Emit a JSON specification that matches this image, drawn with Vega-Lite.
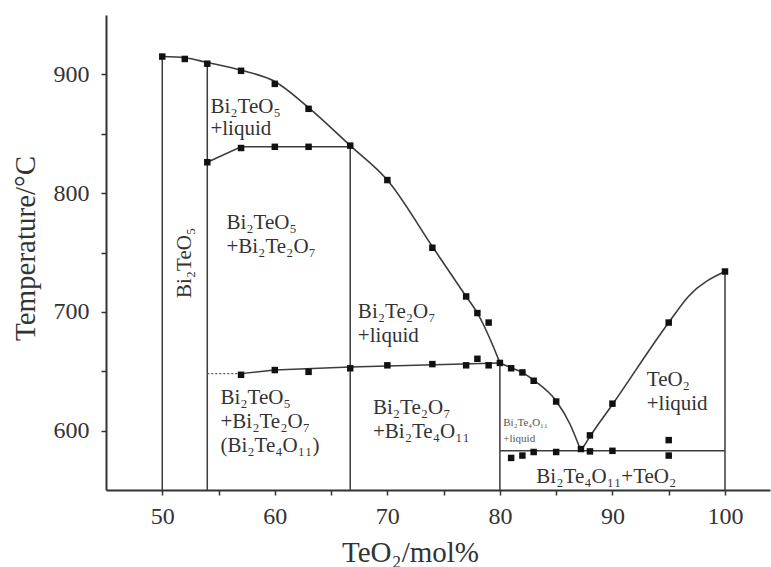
{
  "$schema": "https://vega.github.io/schema/vega-lite/v6.json",
  "width": 664,
  "height": 475,
  "autosize": "none",
  "padding": {"left": 106, "top": 15, "right": 1, "bottom": 77},
  "background": "white",
  "config": {
    "view": {"stroke": null},
    "font": "Liberation Serif, DejaVu Serif",
    "axis": {
      "grid": false,
      "domainColor": "#333333",
      "domainWidth": 2,
      "tickColor": "#333333",
      "tickWidth": 1.5,
      "tickSize": 5,
      "labelFont": "Liberation Serif, DejaVu Serif",
      "labelFontSize": 24,
      "labelColor": "#333333",
      "titleFont": "Liberation Serif, DejaVu Serif",
      "titleFontSize": 29,
      "titleFontWeight": "normal",
      "titleColor": "#333333"
    }
  },
  "datasets": {
    "curves": [
      {"seg": "A", "o": 1, "x": 50, "y": 915},
      {"seg": "A", "o": 2, "x": 52, "y": 914},
      {"seg": "A", "o": 3, "x": 54, "y": 910},
      {"seg": "A", "o": 4, "x": 57, "y": 903.5},
      {"seg": "A", "o": 5, "x": 60, "y": 894},
      {"seg": "A", "o": 6, "x": 63, "y": 872},
      {"seg": "A", "o": 7, "x": 66.7, "y": 840},
      {"seg": "A", "o": 8, "x": 70, "y": 811},
      {"seg": "A", "o": 9, "x": 74, "y": 755},
      {"seg": "A", "o": 10, "x": 77, "y": 713},
      {"seg": "A", "o": 11, "x": 78, "y": 699},
      {"seg": "A", "o": 12, "x": 78.5, "y": 690},
      {"seg": "A", "o": 13, "x": 79.4, "y": 671},
      {"seg": "A", "o": 14, "x": 80, "y": 657},
      {"seg": "B", "o": 1, "x": 80, "y": 657},
      {"seg": "B", "o": 2, "x": 81, "y": 653},
      {"seg": "B", "o": 3, "x": 82, "y": 649},
      {"seg": "B", "o": 4, "x": 83, "y": 642.5},
      {"seg": "B", "o": 5, "x": 85, "y": 625},
      {"seg": "B", "o": 6, "x": 86.2, "y": 606},
      {"seg": "B", "o": 7, "x": 87.2, "y": 583},
      {"seg": "C", "o": 1, "x": 87.2, "y": 583},
      {"seg": "C", "o": 2, "x": 88, "y": 595},
      {"seg": "C", "o": 3, "x": 90, "y": 622},
      {"seg": "C", "o": 4, "x": 95, "y": 691},
      {"seg": "C", "o": 5, "x": 96.75, "y": 713},
      {"seg": "C", "o": 6, "x": 100, "y": 734}
    ],
    "straight": [
      {"seg": "solidus", "o": 1, "x": 54, "y": 826},
      {"seg": "solidus", "o": 2, "x": 57, "y": 839},
      {"seg": "solidus", "o": 3, "x": 66.7, "y": 839},
      {"seg": "peritectic", "o": 1, "x": 57, "y": 648},
      {"seg": "peritectic", "o": 2, "x": 60, "y": 651},
      {"seg": "peritectic", "o": 3, "x": 66.7, "y": 653.5},
      {"seg": "peritectic", "o": 4, "x": 80, "y": 657},
      {"seg": "eutectic", "o": 1, "x": 80, "y": 583},
      {"seg": "eutectic", "o": 2, "x": 100, "y": 583},
      {"seg": "v50", "o": 1, "x": 50, "y": 550},
      {"seg": "v50", "o": 2, "x": 50, "y": 915},
      {"seg": "v54", "o": 1, "x": 54, "y": 550},
      {"seg": "v54", "o": 2, "x": 54, "y": 910},
      {"seg": "v667", "o": 1, "x": 66.7, "y": 550},
      {"seg": "v667", "o": 2, "x": 66.7, "y": 840},
      {"seg": "v80", "o": 1, "x": 80, "y": 550},
      {"seg": "v80", "o": 2, "x": 80, "y": 657},
      {"seg": "v100", "o": 1, "x": 100, "y": 550},
      {"seg": "v100", "o": 2, "x": 100, "y": 734}
    ],
    "dotted": [
      {"o": 1, "x": 54, "y": 648},
      {"o": 2, "x": 57, "y": 648}
    ],
    "measured": [
      {"x": 50, "y": 915}, {"x": 52, "y": 913}, {"x": 54, "y": 909},
      {"x": 57, "y": 903}, {"x": 60, "y": 892}, {"x": 63, "y": 871},
      {"x": 66.7, "y": 840}, {"x": 70, "y": 811}, {"x": 74, "y": 754},
      {"x": 77, "y": 713}, {"x": 78, "y": 699}, {"x": 79, "y": 691},
      {"x": 80, "y": 657},
      {"x": 54, "y": 826}, {"x": 57, "y": 838}, {"x": 60, "y": 839}, {"x": 63, "y": 839},
      {"x": 57, "y": 647}, {"x": 60, "y": 651}, {"x": 63, "y": 649.5},
      {"x": 66.7, "y": 652.5}, {"x": 70, "y": 655}, {"x": 74, "y": 656},
      {"x": 77, "y": 655}, {"x": 78, "y": 660.5}, {"x": 79, "y": 655},
      {"x": 81, "y": 652.5}, {"x": 82, "y": 649}, {"x": 83, "y": 642},
      {"x": 85, "y": 624.5}, {"x": 87.2, "y": 584.5}, {"x": 88, "y": 582.5},
      {"x": 88, "y": 596}, {"x": 90, "y": 622.7}, {"x": 95, "y": 691},
      {"x": 100, "y": 734},
      {"x": 81, "y": 577}, {"x": 82, "y": 579}, {"x": 83, "y": 582},
      {"x": 85, "y": 582}, {"x": 90, "y": 583}, {"x": 95, "y": 579},
      {"x": 95, "y": 592}
    ],
    "phases": [
      {"x": 55.7, "y": 774.8, "label": "Bi₂TeO₅\n+Bi₂Te₂O₇"},
      {"x": 67.38, "y": 699.9, "label": "Bi₂Te₂O₇\n+liquid"},
      {"x": 55.17, "y": 627.5, "label": "Bi₂TeO₅\n+Bi₂Te₂O₇\n(Bi₂Te₄O₁₁)"},
      {"x": 68.72, "y": 619.1, "label": "Bi₂Te₂O₇\n+Bi₂Te₄O₁₁"},
      {"x": 93.05, "y": 642.6, "label": "TeO₂\n+liquid"},
      {"x": 83.24, "y": 560.9, "label": "Bi₂Te₄O₁₁+TeO₂"}
    ],
    "topPhase": [
      {"x": 54.28, "y": 872.5, "label": "Bi₂TeO₅\n+liquid"}
    ],
    "smallPhase": [
      {"x": 80.3, "y": 606.4, "label": "Bi₂Te₄O₁₁\n+liquid"}
    ],
    "compound": [
      {"x": 52.05, "y": 741.2, "label": "Bi₂TeO₅"}
    ]
  },
  "encoding": {
    "x": {
      "field": "x",
      "type": "quantitative",
      "scale": {"domain": [45, 104], "nice": false, "zero": false},
      "axis": {
        "title": "TeO₂/mol%",
        "values": [50, 55, 60, 65, 70, 75, 80, 85, 90, 95, 100],
        "labelExpr": "datum.value % 10 === 0 ? datum.label : ''",
        "labelPadding": 9,
        "titleX": 304,
        "titleY": 62,
        "titleAlign": "center",
        "titleBaseline": "middle"
      }
    },
    "y": {
      "field": "y",
      "type": "quantitative",
      "scale": {"domain": [550, 950], "nice": false, "zero": false},
      "axis": {
        "title": "Temperature/°C",
        "values": [600, 650, 700, 750, 800, 850, 900],
        "labelExpr": "datum.value % 100 === 0 ? datum.label : ''",
        "labelPadding": 12,
        "titleX": -81,
        "titleY": 233,
        "titleAlign": "center",
        "titleBaseline": "middle"
      }
    }
  },
  "layer": [
    {
      "data": {"name": "straight"},
      "mark": {"type": "line", "color": "#3c3c3c", "strokeWidth": 1.5},
      "encoding": {"detail": {"field": "seg"}, "order": {"field": "o"}}
    },
    {
      "data": {"name": "curves"},
      "mark": {"type": "line", "color": "#3c3c3c", "strokeWidth": 1.6, "interpolate": "monotone"},
      "encoding": {"detail": {"field": "seg"}, "order": {"field": "o"}}
    },
    {
      "data": {"name": "dotted"},
      "mark": {"type": "line", "color": "#555555", "strokeWidth": 1.2, "strokeDash": [2, 2]},
      "encoding": {"order": {"field": "o"}}
    },
    {
      "data": {"name": "measured"},
      "mark": {"type": "point", "shape": "square", "filled": true, "size": 42, "color": "#111111", "opacity": 1}
    },
    {
      "data": {"name": "phases"},
      "mark": {"type": "text", "align": "left", "baseline": "middle", "fontSize": 21, "lineHeight": 24, "lineBreak": "\n", "color": "#333333", "font": "Liberation Serif, DejaVu Serif"},
      "encoding": {"text": {"field": "label"}}
    },
    {
      "data": {"name": "topPhase"},
      "mark": {"type": "text", "align": "left", "baseline": "middle", "fontSize": 21, "lineHeight": 22, "lineBreak": "\n", "color": "#333333", "font": "Liberation Serif, DejaVu Serif"},
      "encoding": {"text": {"field": "label"}}
    },
    {
      "data": {"name": "smallPhase"},
      "mark": {"type": "text", "align": "left", "baseline": "middle", "fontSize": 11, "lineHeight": 16, "lineBreak": "\n", "color": "#555555", "font": "Liberation Serif, DejaVu Serif"},
      "encoding": {"text": {"field": "label"}}
    },
    {
      "data": {"name": "compound"},
      "mark": {"type": "text", "align": "center", "baseline": "middle", "angle": 270, "fontSize": 21, "color": "#333333", "font": "Liberation Serif, DejaVu Serif"},
      "encoding": {"text": {"field": "label"}}
    }
  ]
}
